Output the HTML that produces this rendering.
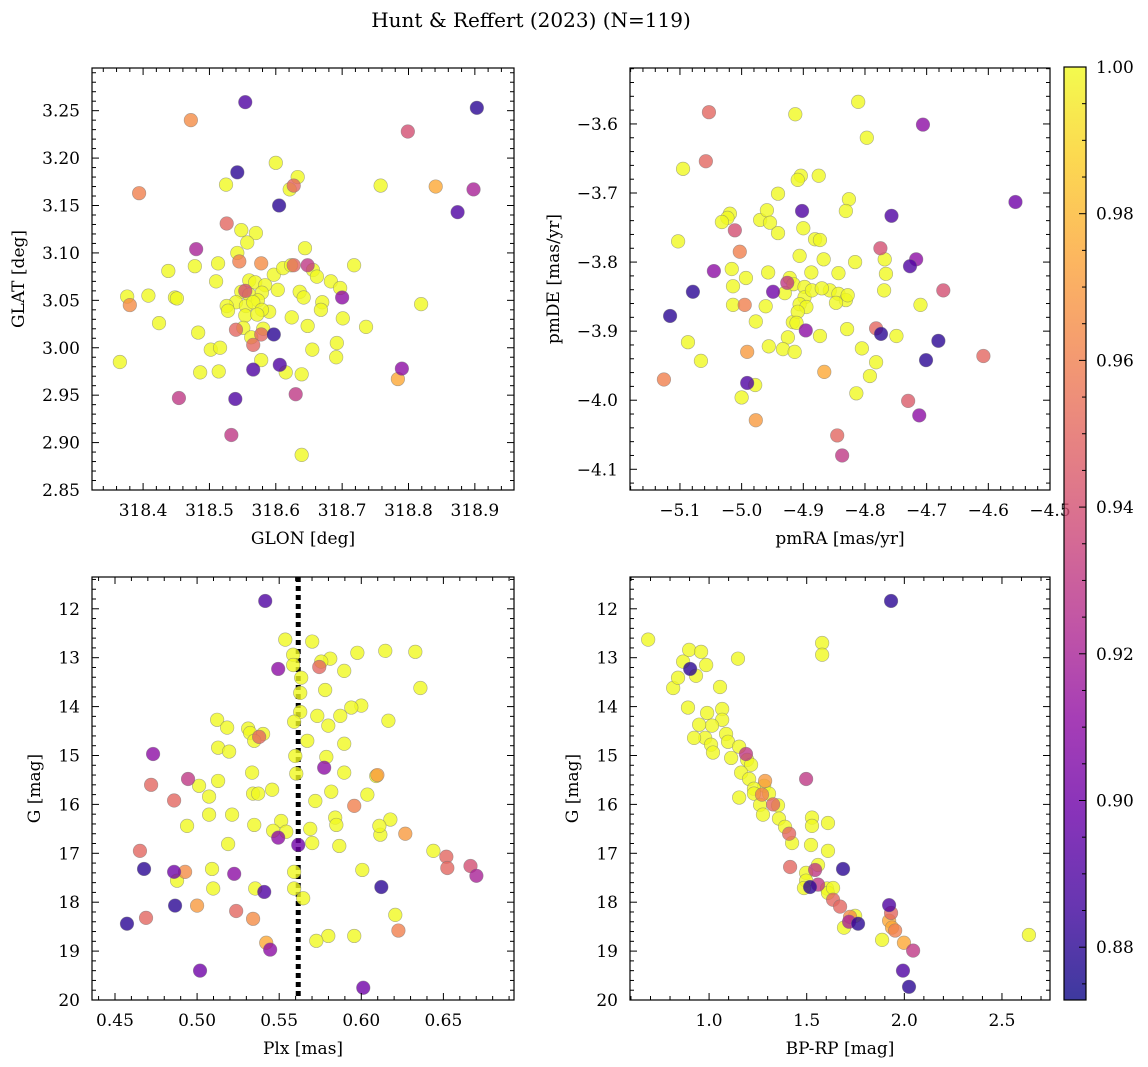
<!DOCTYPE html>
<html><head><meta charset="utf-8">
<style>
html,body{margin:0;padding:0;background:#fff;}
svg{display:block;font-family:"DejaVu Serif","Liberation Serif",serif;}
</style></head>
<body>
<svg id="fig" width="1148" height="1067" viewBox="0 0 1148 1067" xmlns="http://www.w3.org/2000/svg">
<text x="531" y="27" font-size="20" text-anchor="middle">Hunt &amp; Reffert (2023) (N=119)</text>
</svg>
<script>
// ---- Panel 1: GLON / GLAT ----
const glon = [318.554,318.903,318.472,318.799,318.542,318.600,318.394,318.525,318.627,318.633,318.621,318.758,318.841,318.898,318.874,318.605,318.526,318.548,318.570,318.557,318.480,318.644,318.542,318.478,318.438,318.513,318.545,318.578,318.597,318.611,318.623,318.627,318.648,318.656,318.662,318.683,318.718,318.510,318.560,318.569,318.584,318.548,318.560,318.579,318.540,318.573,318.603,318.636,318.670,318.697,318.700,318.365,318.380,318.408,318.448,318.451,318.554,318.526,318.528,318.555,318.590,318.642,318.554,318.566,318.579,318.572,318.624,318.648,318.668,318.701,318.736,318.424,318.540,318.551,318.581,318.483,318.597,318.578,318.563,318.578,318.692,318.655,318.691,318.502,318.516,318.566,318.606,318.566,318.376,318.486,318.514,318.615,318.639,318.790,318.784,318.454,318.539,318.630,318.533,318.639,318.819];
const glat = [3.259,3.253,3.240,3.228,3.185,3.195,3.163,3.172,3.171,3.180,3.167,3.171,3.170,3.167,3.143,3.150,3.131,3.124,3.121,3.111,3.104,3.105,3.100,3.086,3.081,3.089,3.091,3.089,3.077,3.084,3.087,3.087,3.087,3.082,3.075,3.070,3.087,3.070,3.071,3.069,3.066,3.059,3.056,3.058,3.048,3.050,3.061,3.059,3.048,3.063,3.053,2.985,3.045,3.055,3.053,3.052,3.060,3.044,3.039,3.044,3.038,3.053,3.034,3.048,3.040,3.035,3.032,3.023,3.040,3.031,3.022,3.026,3.019,3.021,3.020,3.016,3.014,3.014,3.011,2.987,3.005,2.998,2.990,2.998,3.000,3.003,2.982,2.977,3.054,2.974,2.975,2.974,2.972,2.978,2.967,2.947,2.946,2.951,2.908,2.887,3.046];
const prob1 = [0.89,0.88,0.965,0.94,0.88,1,0.96,1,0.95,1,1,1,0.975,0.92,0.89,0.88,0.95,1,1,1,0.92,1,1,1,1,1,0.96,0.965,1,1,1,0.95,0.93,1,1,1,1,1,1,1,1,1,1,1,1,1,1,1,1,1,0.91,1,0.965,1,1,1,0.94,1,1,1,1,1,1,1,1,1,1,1,1,1,1,1,0.95,1,1,1,0.88,0.95,1,1,1,1,1,1,1,0.95,0.89,0.89,1,1,1,1,1,0.91,0.975,0.93,0.89,0.93,0.93,1,1];
// ---- Panel 2: pmRA / pmDE ----
const pmra = [-4.811,-4.913,-5.053,-4.706,-4.556,-4.797,-5.058,-5.095,-4.941,-4.904,-4.909,-4.875,-4.826,-4.831,-4.757,-4.902,-5.019,-5.023,-5.032,-4.970,-4.959,-4.954,-4.941,-4.900,-5.011,-5.103,-5.003,-5.045,-5.079,-4.881,-4.873,-4.906,-4.867,-4.816,-4.843,-4.887,-4.957,-4.993,-5.016,-4.922,-4.926,-4.916,-4.898,-4.930,-4.949,-5.014,-4.898,-4.886,-4.857,-4.870,-4.843,-4.831,-4.828,-4.847,-4.906,-4.895,-4.961,-4.995,-5.014,-4.775,-4.768,-4.766,-4.769,-4.774,-4.727,-4.717,-4.673,-5.116,-5.087,-5.066,-4.977,-4.917,-4.909,-4.911,-4.896,-4.873,-4.925,-4.956,-4.933,-4.914,-4.829,-4.782,-4.805,-4.782,-4.792,-4.749,-4.710,-4.701,-4.681,-4.608,-5.126,-4.991,-4.991,-4.978,-5.000,-4.866,-4.814,-4.977,-4.845,-4.837,-4.730,-4.712];
const pmde = [-3.568,-3.586,-3.583,-3.601,-3.713,-3.620,-3.654,-3.665,-3.701,-3.675,-3.681,-3.675,-3.709,-3.726,-3.733,-3.726,-3.730,-3.736,-3.742,-3.739,-3.725,-3.743,-3.758,-3.751,-3.754,-3.770,-3.785,-3.813,-3.843,-3.767,-3.768,-3.791,-3.796,-3.800,-3.816,-3.815,-3.815,-3.823,-3.810,-3.823,-3.830,-3.832,-3.836,-3.845,-3.843,-3.835,-3.851,-3.841,-3.841,-3.838,-3.846,-3.855,-3.848,-3.859,-3.861,-3.865,-3.864,-3.862,-3.862,-3.780,-3.796,-3.817,-3.841,-3.904,-3.806,-3.796,-3.841,-3.878,-3.916,-3.943,-3.886,-3.887,-3.872,-3.888,-3.899,-3.907,-3.909,-3.922,-3.926,-3.930,-3.897,-3.896,-3.925,-3.945,-3.965,-3.907,-3.862,-3.942,-3.914,-3.936,-3.970,-3.930,-3.975,-3.978,-3.996,-3.959,-3.990,-4.029,-4.051,-4.080,-4.001,-4.022];
const prob2 = [1,1,0.95,0.91,0.9,1,0.95,1,1,1,1,1,1,1,0.89,0.89,1,1,1,1,1,1,1,1,0.94,1,0.96,0.91,0.88,1,1,1,1,1,1,1,1,1,1,1,0.93,1,1,1,0.9,1,1,1,1,1,1,1,1,1,1,1,1,0.96,1,0.94,1,1,1,0.88,0.89,0.91,0.94,0.88,1,1,1,1,1,1,0.91,1,1,1,1,1,1,0.95,1,1,1,1,1,0.88,0.88,0.95,0.96,0.97,0.89,1,1,0.975,1,0.97,0.95,0.93,0.945,0.91];
// ---- Panel 3: Plx / G ----
const plx = [0.5415,0.5537,0.5701,0.5585,0.5811,0.5756,0.5976,0.6146,0.6329,0.5585,0.5744,0.5494,0.5634,0.5896,0.6360,0.5780,0.6000,0.5939,0.5872,0.5732,0.6165,0.5628,0.5628,0.5591,0.5799,0.5311,0.5323,0.5402,0.5378,0.5348,0.5671,0.5896,0.5122,0.5183,0.4732,0.5128,0.5195,0.5787,0.5774,0.5598,0.5604,0.4720,0.4945,0.5012,0.5128,0.5335,0.5896,0.6091,0.6098,0.5073,0.5341,0.5372,0.5457,0.5720,0.5817,0.5957,0.6037,0.4860,0.4939,0.5073,0.5213,0.5348,0.5512,0.5543,0.5463,0.5494,0.5689,0.5841,0.5848,0.6116,0.6177,0.6110,0.6268,0.5189,0.5616,0.5701,0.5866,0.4652,0.6439,0.4677,0.6518,0.6524,0.6665,0.6701,0.4860,0.4927,0.5091,0.5226,0.6006,0.5591,0.5591,0.4878,0.4866,0.5098,0.5354,0.5409,0.6122,0.5646,0.5000,0.5238,0.5341,0.6207,0.4689,0.4573,0.6226,0.5957,0.5799,0.5726,0.5421,0.5445,0.5018,0.6012];
const gmag3 = [11.84,12.63,12.67,12.94,13.02,13.08,12.90,12.86,12.88,13.15,13.19,13.23,13.41,13.27,13.62,13.66,13.98,14.02,14.19,14.19,14.29,13.72,14.11,14.31,14.39,14.45,14.54,14.56,14.62,14.70,14.70,14.76,14.27,14.43,14.97,14.84,14.92,15.03,15.25,15.01,15.37,15.60,15.48,15.62,15.52,15.35,15.35,15.42,15.40,15.84,15.78,15.78,15.70,15.93,15.74,16.03,15.80,15.92,16.44,16.21,16.21,16.42,16.34,16.56,16.54,16.68,16.50,16.27,16.42,16.62,16.31,16.44,16.60,16.81,16.83,16.79,16.85,16.95,16.95,17.32,17.07,17.30,17.26,17.46,17.38,17.38,17.32,17.42,17.34,17.38,17.72,17.56,18.07,17.72,17.72,17.79,17.69,17.92,18.07,18.18,18.34,18.26,18.32,18.44,18.58,18.69,18.69,18.79,18.83,18.97,19.40,19.75];
const prob3 = [0.89,1,1,1,1,1,1,1,1,1,0.95,0.91,1,1,1,1,1,1,1,1,1,1,1,1,1,1,1,1,0.95,1,1,1,1,1,0.91,1,1,1,0.91,1,1,0.95,0.93,1,1,1,1,1,0.97,1,1,1,1,1,1,0.96,1,0.95,1,1,1,1,1,1,1,0.91,1,1,1,1,1,1,0.97,1,0.9,1,1,0.95,1,0.88,0.95,0.95,0.94,0.92,0.9,0.965,1,0.91,1,1,1,1,0.88,1,1,0.89,0.88,1,0.97,0.95,0.965,1,0.95,0.88,0.96,1,1,1,0.975,0.91,0.9,0.9];
const plxRef = [0.5616];
// ---- Panel 4: BP-RP / G ----
const bprp = [1.932,0.688,0.867,1.579,1.579,1.148,0.898,0.959,0.903,0.933,0.985,0.816,0.841,1.056,0.892,0.990,1.067,1.067,1.015,0.949,0.980,0.923,1.087,1.097,1.154,1.010,1.020,1.113,1.189,1.195,1.215,1.164,1.205,1.497,1.287,1.282,1.230,1.230,1.271,1.307,1.328,1.353,1.154,1.261,1.276,1.358,1.389,1.410,1.425,1.527,1.527,1.522,1.609,1.609,1.415,1.543,1.686,1.558,1.497,1.497,1.517,1.486,1.558,1.604,1.609,1.635,1.671,1.635,1.722,1.748,1.717,1.763,1.691,1.922,1.932,1.922,1.937,1.953,1.886,1.998,2.638,1.993,2.045,2.024];
const gmag4 = [11.84,12.63,13.08,12.70,12.94,13.02,12.84,12.88,13.23,13.37,13.15,13.62,13.41,13.60,14.02,14.13,14.05,14.27,14.39,14.37,14.64,14.64,14.56,14.72,14.82,14.78,14.94,15.05,14.97,15.09,15.19,15.35,15.48,15.48,15.52,15.62,15.68,15.78,15.80,15.78,16.00,16.02,15.86,16.01,16.21,16.29,16.46,16.60,16.79,16.27,16.44,16.83,16.38,16.95,17.28,17.34,17.32,17.24,17.40,17.56,17.69,17.71,17.64,17.72,17.81,17.95,18.09,17.71,18.30,18.28,18.40,18.44,18.52,18.06,18.22,18.38,18.52,18.58,18.77,18.83,18.67,19.40,18.99,19.73];
const prob4 = [0.88,1,1,1,1,1,1,1,0.88,1,1,1,1,1,1,1,1,1,1,1,1,1,1,1,1,1,1,1,0.93,1,1,1,1,0.93,0.97,1,1,1,0.96,1,0.95,1,1,1,1,1,1,0.95,1,1,1,1,1,1,0.95,0.93,0.88,1,1,1,0.88,1,0.93,1,1,0.95,0.95,1,0.965,1,0.92,0.88,1,0.89,0.95,0.975,0.975,0.96,1,0.975,1,0.89,0.93,0.88];
const cbTicks = ["0.88","0.90","0.92","0.94","0.96","0.98","1.00"];

const NS = "http://www.w3.org/2000/svg";
const svg = document.getElementById("fig");
const VMIN = 0.8728, VMAX = 1.0;
const plasma = [[13,8,135],[65,4,157],[106,0,168],[143,13,164],[177,42,144],[204,71,120],[225,100,98],[242,132,75],[252,166,54],[252,206,37],[240,249,33]];
function cmap(v){
  let t = Math.max(0, Math.min(1, (v - VMIN) / (VMAX - VMIN))) * 10;
  let i = Math.min(9, Math.floor(t)), f = t - i;
  const a = plasma[i], b = plasma[i+1];
  return "rgb(" + [0,1,2].map(k => Math.round(a[k] + (b[k]-a[k])*f)).join(",") + ")";
}
function el(tag, attrs, parent){
  const e = document.createElementNS(NS, tag);
  for (const k in attrs) e.setAttribute(k, attrs[k]);
  (parent || svg).appendChild(e);
  return e;
}
function fmt(v, d){ const s = v.toFixed(d); return s.replace("-", "\u2212"); }

function panel(cfg){
  const g = el("g", {});
  
  
  const {x0,x1,y0,y1,xmin,xmax,ymin,ymax,invY} = cfg;
  const sx = v => x0 + (v - xmin) / (xmax - xmin) * (x1 - x0);
  const sy = v => invY ? y0 + (v - ymin) / (ymax - ymin) * (y1 - y0) : y1 - (v - ymin) / (ymax - ymin) * (y1 - y0);
  const clipId = cfg.name + "-clip";
  const cp = el("clipPath", {id: clipId}, g);
  el("rect", {x:x0, y:y0, width:x1-x0, height:y1-y0}, cp);
  const marks = el("g", {"clip-path": "url(#" + clipId + ")"}, g);
  
  
  if (cfg.vline) {
    const ln = el("line", {x1:sx(cfg.vline[0]), x2:sx(cfg.vline[0]), y1:y0, y2:y1, stroke:"#000", "stroke-width":5, "stroke-dasharray":"5,4"}, marks);
    
    
  }
  const n = Math.min(cfg.xs.length, cfg.ys.length, cfg.ps.length);
  const idx = [...Array(n).keys()].sort((a,b) => cfg.ps[b] - cfg.ps[a]);
  for (const i of idx) {
    const c = el("circle", {cx: sx(cfg.xs[i]), cy: sy(cfg.ys[i]), r: 6.8, fill: cmap(cfg.ps[i]), "fill-opacity": 0.8, stroke: "#777", "stroke-opacity":0.6, "stroke-width": 0.6}, marks);
    
    
  }
  // frame
  const fr = el("rect", {x:x0, y:y0, width:x1-x0, height:y1-y0, fill:"none", stroke:"#000", "stroke-width":1.2}, g);
  
  
  // x ticks
  const eps = 1e-9;
  for (let v = Math.ceil((xmin)/cfg.xminor - eps)*cfg.xminor; v <= xmax + eps; v += cfg.xminor) {
    const X = sx(v);
    const major = Math.abs(v/cfg.xmajor - Math.round(v/cfg.xmajor)) < 1e-4;
    const L = major ? 7 : 4;
    el("line", {x1:X, x2:X, y1:y1, y2:y1-L, stroke:"#000", "stroke-width":1}, g);
    el("line", {x1:X, x2:X, y1:y0, y2:y0+L, stroke:"#000", "stroke-width":1}, g);
    if (major) {
      const t = el("text", {x:X, y:y1+26, "font-size":17, "text-anchor":"middle"}, g);
      t.textContent = fmt(Math.round(v/cfg.xmajor)*cfg.xmajor, cfg.xdec);
      
      
    }
  }
  for (let v = Math.ceil((ymin)/cfg.yminor - eps)*cfg.yminor; v <= ymax + eps; v += cfg.yminor) {
    const Y = sy(v);
    const major = Math.abs(v/cfg.ymajor - Math.round(v/cfg.ymajor)) < 1e-4;
    const L = major ? 7 : 4;
    el("line", {x1:x0, x2:x0+L, y1:Y, y2:Y, stroke:"#000", "stroke-width":1}, g);
    el("line", {x1:x1, x2:x1-L, y1:Y, y2:Y, stroke:"#000", "stroke-width":1}, g);
    if (major) {
      const t = el("text", {x:x0-12, y:Y+6, "font-size":17, "text-anchor":"end"}, g);
      t.textContent = fmt(Math.round(v/cfg.ymajor)*cfg.ymajor, cfg.ydec);
      
      
    }
  }
  const xl = el("text", {x:(x0+x1)/2, y:y1+54, "font-size":17, "text-anchor":"middle"}, g);
  xl.textContent = cfg.xlabel;
  
  
  const yx = cfg.ylx, yy = (y0+y1)/2;
  const yl = el("text", {x:yx, y:yy, "font-size":17, "text-anchor":"middle", transform:"rotate(-90 "+yx+" "+yy+")"}, g);
  yl.textContent = cfg.ylabel;
  
  
}

panel({name:"position-panel", x0:92,x1:514,y0:68,y1:490, xmin:318.323,xmax:318.959, ymin:2.85,ymax:3.295,
  xs:glon, ys:glat, ps:prob1, xmajor:0.1,xminor:0.02,xdec:1, ymajor:0.05,yminor:0.01,ydec:2, xlabel:"GLON [deg]", ylabel:"GLAT [deg]", ylx:24});
panel({name:"proper-motion-panel", x0:630,x1:1050,y0:68,y1:490, xmin:-5.181,xmax:-4.5, ymin:-4.130,ymax:-3.519,
  xs:pmra, ys:pmde, ps:prob2, xmajor:0.1,xminor:0.02,xdec:1, ymajor:0.1,yminor:0.02,ydec:1, xlabel:"pmRA [mas/yr]", ylabel:"pmDE [mas/yr]", ylx:559});
panel({name:"parallax-panel", x0:92,x1:514,y0:577,y1:1000, xmin:0.436,xmax:0.693, ymin:11.35,ymax:20, invY:true,
  xs:plx, ys:gmag3, ps:prob3, vline:plxRef, xmajor:0.05,xminor:0.01,xdec:2, ymajor:1,yminor:0.2,ydec:0, xlabel:"Plx [mas]", ylabel:"G [mag]", ylx:40});
panel({name:"cmd-panel", x0:630,x1:1050,y0:577,y1:1000, xmin:0.595,xmax:2.746, ymin:11.35,ymax:20, invY:true,
  xs:bprp, ys:gmag4, ps:prob4, xmajor:0.5,xminor:0.1,xdec:1, ymajor:1,yminor:0.2,ydec:0, xlabel:"BP-RP [mag]", ylabel:"G [mag]", ylx:578});

// ---- colorbar ----
const cb = el("g", {});


const cbx0 = 1064, cbx1 = 1086, cby0 = 67, cby1 = 1000;
const grad = el("linearGradient", {id:"cbgrad", x1:0, y1:1, x2:0, y2:0}, cb);
for (let k = 0; k <= 20; k++) {
  const v = VMIN + (VMAX - VMIN) * k / 20;
  el("stop", {offset: (k/20), "stop-color": cmap(v), "stop-opacity": 0.8}, grad);
}
el("rect", {x:cbx0, y:cby0, width:cbx1-cbx0, height:cby1-cby0, fill:"url(#cbgrad)", stroke:"#000", "stroke-width":1.2}, cb);
const cy = v => cby1 - (v - VMIN) / (VMAX - VMIN) * (cby1 - cby0);
for (let v = 0.875; v <= 1.0001; v += 0.005) {
  const Y = cy(v);
  const major = Math.abs(v*50 - Math.round(v*50)) < 1e-4;
  el("line", {x1:cbx1, x2:cbx1 - (major ? 7 : 4), y1:Y, y2:Y, stroke:"#000", "stroke-width":1}, cb);
}
for (const s of cbTicks) {
  const t = el("text", {x:1096, y:cy(parseFloat(s))+6, "font-size":17}, cb);
  t.textContent = s;
  
  
}
</script>
</body></html>
